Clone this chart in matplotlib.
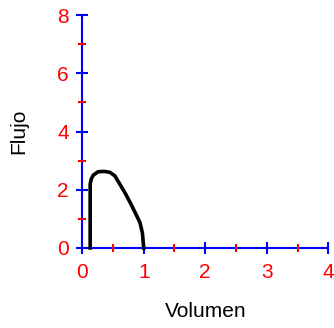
import matplotlib
matplotlib.use("Agg")
import matplotlib.pyplot as plt
from matplotlib.ticker import MultipleLocator

volume = [0.13, 0.13, 0.15, 0.18, 0.26, 0.36, 0.45, 0.53, 0.61, 0.70, 0.78, 0.86, 0.94, 0.98, 1.00]
flow = [0.0, 2.2, 2.38, 2.5, 2.62, 2.63, 2.6, 2.48, 2.2, 1.88, 1.56, 1.22, 0.87, 0.5, 0.0]

x_label = "Volumen"
y_label = "Flujo"

plt.rcParams['font.family'] = ['Liberation Sans', 'DejaVu Sans']

fig = plt.figure(figsize=(3.34, 3.28), dpi=100)
ax = fig.add_axes([0.246, 0.244, 0.737, 0.710])
ax.plot(volume, flow, color='black', lw=2.6, solid_joinstyle='round', clip_on=False)
ax.set_xlim(0, 4)
ax.set_ylim(0, 8)
ax.xaxis.set_major_locator(MultipleLocator(1))
ax.xaxis.set_minor_locator(MultipleLocator(0.5))
ax.yaxis.set_major_locator(MultipleLocator(2))
ax.yaxis.set_minor_locator(MultipleLocator(1))
for s in ['top', 'right']:
    ax.spines[s].set_visible(False)
for s in ['left', 'bottom']:
    ax.spines[s].set_color('blue')
    ax.spines[s].set_linewidth(1.5)
    ax.spines[s].set_zorder(1)
ax.tick_params(which='major', direction='inout', length=9, width=1.5, color='blue',
               labelcolor='red', labelsize=15)
ax.tick_params(which='minor', direction='inout', length=6, width=1.5, color='red')
ax.tick_params(axis='y', which='major', pad=5)
ax.tick_params(axis='x', which='major', pad=6)
ax.set_xlabel(x_label, fontsize=15, labelpad=15)
ax.set_ylabel(y_label, fontsize=15, labelpad=21)
fig.savefig('out.png', dpi=100)
